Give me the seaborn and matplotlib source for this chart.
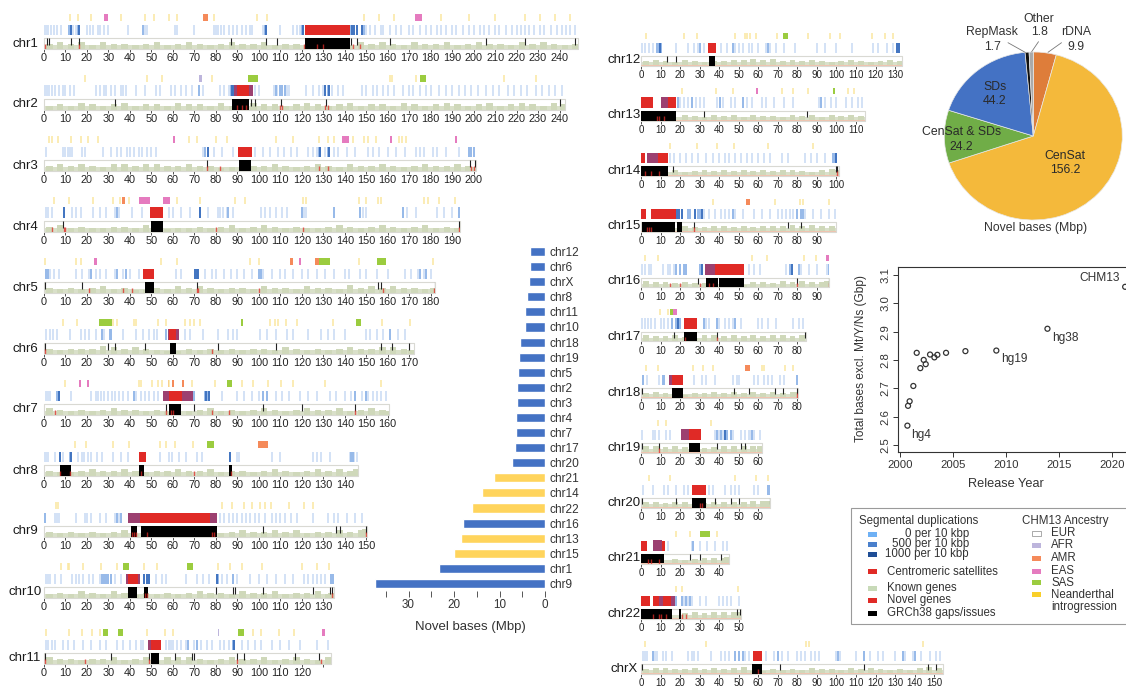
import matplotlib
matplotlib.use("Agg")
import matplotlib.pyplot as plt
import pandas as pd
import seaborn as sns
from matplotlib.patches import Rectangle

# chromosome sizes (Mbp)
CHROMS = ["chr1", "chr2", "chr3", "chr4", "chr5", "chr6", "chr7", "chr8", "chr9", "chr10", "chr11",
          "chr12", "chr13", "chr14", "chr15", "chr16", "chr17", "chr18", "chr19", "chr20", "chr21", "chr22", "chrX"]
LENGTHS = [248.4, 242.7, 201.1, 193.6, 182.0, 172.1, 160.6, 146.3, 150.6, 134.8, 133.5,
           133.3, 114.4, 101.2, 99.8, 96.3, 84.3, 80.5, 61.7, 66.2, 45.1, 51.3, 154.3]

# centromeric satellites, and the parts overlapping segmental duplications
CENSAT = {
    "chr1": [(121.5, 142.5)], "chr2": [(90, 95.5)], "chr3": [(90.4, 96.7)], "chr4": [(49.2, 55.6)],
    "chr5": [(46.3, 51.4)], "chr6": [(58.2, 61.3)], "chr7": [(58, 64.3)], "chr8": [(44, 47.5)],
    "chr9": [(44.5, 77.5)], "chr10": [(39, 43.6)], "chr11": [(49.7, 54.5)], "chr12": [(34.4, 38.6)],
    "chr13": [(0, 6), (14, 18)], "chr14": [(0, 2.2), (8.5, 14)], "chr15": [(0, 2.8), (5.2, 18)],
    "chr16": [(38, 52.5)], "chr17": [(22.2, 28.8)], "chr18": [(15.9, 21.5)], "chr19": [(24.6, 30.6)],
    "chr20": [(26.2, 33.2)], "chr21": [(0.2, 3.2), (10.5, 12.1)], "chr22": [(0.2, 4.8), (6.2, 9), (11, 15.5)],
    "chrX": [(57.4, 61.7)],
}
CENSAT_MIX = {
    "chr2": [(88.5, 90), (95.5, 97.5)], "chr6": [(57.5, 58.2), (61.3, 63)], "chr7": [(55.5, 58), (64.3, 69.5)],
    "chr9": [(39, 44.5), (77.5, 80.5)], "chr10": [(38, 39), (43.6, 44.5)], "chr11": [(48.2, 49.7)],
    "chr13": [(10, 14)], "chr14": [(3, 8.5)], "chr16": [(32.5, 38)], "chr18": [(14.4, 15.9)],
    "chr19": [(20.7, 24.6)], "chr21": [(6.2, 10.5)], "chr22": [(9, 11), (15.5, 17.5)],
}
# GRCh38 gaps and issues: long blocks and thin marks
GAPS = {
    "chr1": [(121.5, 142.5)], "chr2": [(87.5, 95.5)], "chr3": [(91, 96.3)], "chr4": [(49.7, 55.3)],
    "chr5": [(47, 51.2)], "chr6": [(58.7, 61.3)], "chr7": [(58.4, 63.8)], "chr8": [(7.5, 12.8), (44.3, 46.5), (86.3, 87.5)],
    "chr9": [(40.5, 43.5), (45, 80.5)], "chr10": [(39.3, 43.3), (46.7, 48.3)], "chr11": [(49.8, 53.7)],
    "chr12": [(35, 37.8)], "chr13": [(0, 18)], "chr14": [(0, 14)], "chr15": [(0.5, 17.5), (18.5, 21)],
    "chr16": [(33.5, 39.2), (39.8, 52.5)], "chr17": [(21.8, 28.5)], "chr18": [(15.9, 21.5)], "chr19": [(24.6, 30)],
    "chr20": [(26.2, 33)], "chr21": [(0, 11.7)], "chr22": [(0, 15.8), (19.5, 20.5)], "chrX": [(57, 62)],
}
GAP_MARKS = {
    "chr1": [1.5, 2.5, 12.5, 16.5, 87, 103.5, 108.5, 143, 145.5, 161, 206, 224, 247],
    "chr2": [33, 96.5, 98, 110.5, 131.5, 240], "chr3": [76, 198.5, 200.5], "chr4": [9, 193],
    "chr5": [0.5, 17.5, 71, 155.5, 157, 182], "chr6": [0.5, 30, 33, 47, 81, 108, 157, 162, 170],
    "chr7": [57, 70, 102, 120, 145], "chr8": [], "chr9": [102, 136, 138, 150],
    "chr10": [80, 88, 89, 102, 125, 133, 134], "chr11": [0.5, 31, 49, 61, 69, 70, 90, 93, 117, 128],
    "chr12": [13.5, 18], "chr13": [32, 85], "chr14": [16.5, 99.5, 100.5], "chr15": [27, 75, 82],
    "chr16": [29, 80, 96], "chr17": [17, 39, 84], "chr18": [0.5, 47.5, 55, 68.5, 72.5, 80],
    "chr19": [0.5, 9, 39, 51, 53], "chr20": [0.5, 18, 38, 46, 50, 66], "chr21": [25, 30, 41],
    "chr22": [49, 50.5], "chrX": [0.5, 71, 114, 147, 151],
}
NOVEL_MARKS = {
    "chr1": [0.5, 16.5, 121, 127, 130, 144, 147], "chr2": [90, 92, 94, 110, 111, 131, 132], "chr3": [76, 82, 128, 132, 199, 200],
    "chr4": [3.5, 9.5, 10, 80, 120.5, 193], "chr5": [21, 37, 41, 71, 71.5, 100, 158, 181.5], "chr6": [0.5, 78],
    "chr7": [5, 57, 59, 60, 78, 86, 145], "chr8": [7.5, 12, 45, 70, 87], "chr9": [41, 42, 43, 48, 78, 79, 150],
    "chr10": [47, 48, 134], "chr11": [0.5, 19, 49, 90, 129], "chr12": [], "chr13": [8, 9, 12], "chr14": [2, 5, 9, 100.5],
    "chr15": [3, 4, 5, 27], "chr16": [15, 20, 30, 35, 37, 80, 96], "chr17": [22.5, 39], "chr18": [80], "chr19": [9],
    "chr20": [30, 31], "chr21": [3.5, 5, 9], "chr22": [6, 9, 10, 13, 21, 23], "chrX": [60],
}

# segmental duplication tracks, three shades
SD_LIGHT = {
    "chr1": [0.5, 1.2, 2, 3.2, 4.5, 6, 8, 11.5, 13.5, 15, 20, 21.5, 23, 25, 26, 28, 30, 39, 47, 48, 61, 62, 70, 79, 80, 81, 82.5, 84, 86, 88, 90, 92, 94, 96, 97, 102, 110, 116, 118, 119, 150, 152, 154, 157, 158, 161, 164, 166, 170, 172, 175, 178, 180, 183, 185, 187, 190, 192, 195, 198, 200, 203, 205, 207, 210, 212, 215, 218, 220, 222, 224, 226, 228, 231, 233, 236, 239, 241, 243, 245, 247],
    "chr2": [0.5, 1.5, 2.5, 3.5, 5, 7, 9, 10, 12, 14, 24, 26, 28, 29, 31, 33, 36, 37, 38, 43, 47, 52, 54, 59, 61, 64, 66, 69, 72, 74, 82, 84, 86, 98, 100, 107, 108.5, 112, 113, 114, 122, 125, 128, 130, 134, 137, 139, 148, 150, 153, 155, 158, 160, 163, 167, 170, 172, 175, 178, 180, 184, 187, 190, 193, 196, 199, 202, 206, 209, 212, 216, 219, 222, 225, 229, 232, 235, 238, 241],
    "chr3": [0.8, 9, 10, 11, 12, 13, 17.5, 19, 27.6, 31, 34, 36, 38.5, 40, 42, 44, 45.5, 48, 50, 52, 74, 79, 83, 88, 98, 102, 105, 109, 111.5, 115, 118, 123, 125, 127, 131, 135, 137, 141, 145, 151, 153, 156, 160, 164, 168, 173, 175, 177, 181, 183, 187, 193],
    "chr4": [1, 2, 3.5, 13, 15, 17, 23, 26, 29, 33, 35, 41, 45.5, 58, 60, 64, 68, 76.5, 81, 82, 83.5, 85, 88, 101, 103, 105, 108, 111, 113, 121, 122, 147, 148.5, 150, 167, 169, 173, 183, 186, 190],
    "chr5": [3, 4.5, 7, 14.9, 17.5, 21, 24, 26, 29, 33, 37, 40, 44, 61.5, 64, 75, 78, 80, 84, 87, 90, 93, 97, 102, 106, 110, 112, 116, 120, 123, 127, 131, 135, 140, 142, 147, 150, 155, 160, 168, 171, 174, 177, 180],
    "chr6": [1, 3, 4, 6, 12, 17, 19, 21, 24, 28, 31, 37, 43, 46, 49, 51, 52.5, 65.6, 68, 74, 81, 85.5, 88, 90, 100.5, 104, 108, 113, 116, 123, 129, 132, 135, 140, 150, 152, 155, 158, 165, 168],
    "chr7": [0.8, 1.5, 2.3, 3, 12.4, 22, 24, 25, 26.5, 28, 30, 31.5, 33, 35, 37, 39, 43, 45, 47, 49, 51, 53, 70, 83, 90, 93, 97, 100, 108, 111, 114, 119, 123, 127, 133, 136, 140, 143, 148, 151, 153, 155, 157, 159],
    "chr8": [0.5, 1, 1.7, 5, 9, 16, 17.5, 18.5, 20.5, 22, 24.5, 27, 32, 36, 39, 54, 58, 59.5, 63, 66, 71, 73.5, 90, 91, 106, 110, 125, 127, 129, 133, 142.5, 143.5, 144.5, 145.5],
    "chr9": [0.5, 5, 6, 7, 15, 19, 20, 22, 26, 29, 33, 35, 82, 84, 86, 88, 90, 92, 94, 96, 98, 100, 103, 106, 108, 110, 112, 115, 118, 125, 132, 135, 137, 141, 145, 148],
    "chr10": [1, 2, 3, 5, 8, 13, 15, 16.5, 18, 21, 23, 26, 33, 36, 52, 55, 57, 66, 71, 74, 77, 83, 85, 90, 96, 100, 104, 108, 112, 116, 121, 123, 125, 127, 129, 131],
    "chr11": [1, 2, 3.5, 5, 9, 11, 14, 18, 22, 26, 29, 34, 37, 40, 43, 45, 46, 57, 58, 59, 60, 62, 64, 66, 70, 73, 76, 78, 82, 84, 86, 92, 95, 98, 101, 106, 110, 114, 119, 127, 132],
    "chr12": [0.5, 2, 4, 6, 18, 24, 27, 29, 32, 41, 44, 48, 50, 52, 55, 57, 60, 64, 66, 69, 73, 79, 90, 94, 100, 108, 118.7, 121, 125.8, 129],
    "chr13": [20, 22, 24, 28, 30, 32, 39, 42, 46, 48, 54, 57, 62, 64, 68, 73, 78, 91, 94, 97, 100, 105, 108, 111, 113],
    "chr14": [15, 17, 20, 23, 26, 29, 33, 37, 40, 43, 45, 48, 51, 54, 57, 60, 63, 66, 72, 75, 84, 87, 90, 94],
    "chr15": [32, 35, 38, 41, 43, 45, 48, 52, 58, 62, 66, 70, 72, 74, 76, 78, 84, 88, 92, 96, 99],
    "chr16": [0.5, 2, 4, 5, 11.5, 14, 15, 17, 55, 58, 61, 74, 77, 82, 86, 90, 95],
    "chr17": [0.5, 2, 3.5, 5, 7, 10, 12, 14, 33, 35, 40, 43, 45, 47, 51, 60, 62, 65, 69, 78, 81, 83],
    "chr18": [3, 9, 27, 31, 33, 38, 47, 49, 50, 58, 60, 63, 65, 67, 71, 73],
    "chr19": [0.5, 6, 7, 9, 13, 15, 38, 40, 42, 47, 51, 53, 55, 56, 58, 61],
    "chr20": [1, 6, 12, 14, 18, 22, 24, 35, 37, 43, 46, 48, 50, 58, 60],
    "chr21": [14, 26, 30, 34, 38, 42, 44],
    "chr22": [22, 24, 26, 30, 33, 40, 42, 44, 46, 50],
    "chrX": [1, 2, 3, 7, 8, 11, 13, 16, 24, 26, 27, 29, 36, 41, 43, 45, 50, 53, 55, 64, 68, 72, 75, 80, 82, 84, 87, 89, 91, 100, 102, 110, 117, 121, 124, 130, 135, 139, 143, 148, 151, 153],
}
SD_MID = {
    "chr1": [11.8, 16, 46, 103, 120, 142.8, 149], "chr2": [72, 87, 108, 110, 111, 112, 132], "chr3": [75, 128, 132, 198, 199, 200],
    "chr4": [34, 72.4, 85.5, 120, 134.8, 147, 167, 193], "chr5": [1, 2, 22, 34, 38, 100, 101, 175, 178], "chr6": [26.9, 30.5, 31, 57, 161],
    "chr7": [6, 7.2, 42, 70, 75, 76, 102, 104, 145, 150], "chr8": [12, 143, 144], "chr9": [0.5, 34, 36],
    "chr10": [27, 28, 29, 30, 31, 81, 88, 133.5, 134.5], "chr11": [67, 71, 88], "chr12": [8, 9, 10, 30, 47, 65],
    "chr13": [19, 26, 40.5, 52, 92], "chr14": [98, 99, 100], "chr15": [24, 25, 29, 30, 47, 80, 82, 83],
    "chr16": [18, 20, 22, 23, 30, 76, 81, 96], "chr17": [16, 18, 20, 32, 39, 48], "chr18": [1, 11, 12, 80],
    "chr19": [21, 39, 41, 44, 46, 57], "chr20": [66, 65], "chr21": [26.5], "chr22": [18, 21, 23, 25], "chrX": [6, 48, 50, 52, 70, 101, 114, 134, 140],
}
SD_DARK = {
    "chr1": [12.5, 16.5, 103.5, 120.5, 143.5, 144.5, 145.5, 148], "chr2": [87.5, 88, 131, 132.5], "chr3": [76.5, 128.5, 132.5], "chr4": [9.5, 72.8],
    "chr5": [70.5, 71, 71.7], "chr6": [], "chr7": [7, 75.5, 77], "chr8": [7.5, 12.8, 86.6], "chr9": [],
    "chr10": [46.5, 48, 49, 80.7], "chr11": [88.5], "chr12": [9.5, 131, 132], "chr13": [], "chr14": [99.5],
    "chr15": [18.5, 19.5, 21, 27.5, 31], "chr16": [31, 77], "chr17": [19], "chr18": [], "chr19": [43],
    "chr20": [], "chr21": [], "chr22": [], "chrX": [],
}

# ancestry track
NEANDERTHAL = {
    "chr1": [12, 16, 22, 36, 47, 51, 58, 62, 79, 99, 104, 149, 156, 163, 185, 198, 210, 224, 231, 238, 245],
    "chr2": [19, 48, 55, 78, 161, 162, 173, 214, 229],
    "chr3": [2.3, 3.5, 6.7, 12.6, 17, 20.5, 25.3, 67.4, 71.4, 80, 85, 108, 116, 128, 132, 135, 144, 149, 151, 154.5, 165.5, 166.5, 168.5],
    "chr4": [4.8, 11.8, 23, 32, 35.4, 39.7, 62, 72.7, 88.7, 93.6, 120.5, 122, 146.5, 150, 155.5, 157, 176.7, 179, 183.7, 191.5],
    "chr5": [0.5, 15, 17, 54.7, 62, 96, 100, 146.5, 181],
    "chr6": [8.7, 15.2, 32.3, 34.2, 42, 43, 53, 56.7, 65.6, 68, 69.6, 72.4, 105, 107.7, 109, 112.7, 117.7, 134.5, 157.3, 170.4],
    "chr7": [9.8, 44, 45, 50.2, 53, 55, 58, 69, 79.7, 92.2, 97.2, 104.2, 110.4, 115.8, 131, 156.9],
    "chr8": [14.6, 19.4, 32.3, 39.7, 54, 57, 61, 69.2],
    "chr9": [5.8, 6.5, 83, 87.7, 93, 97, 100.6, 103, 105.6, 114, 121, 125],
    "chr10": [8, 11, 11.8, 18, 26.6, 34, 46.6, 52.5, 81.2, 86.6, 92, 101.4, 120.3, 127, 132.5],
    "chr11": [1, 11.8, 17.9, 22.2, 26, 47.8, 56.2, 60, 97.5, 101, 109.6, 116.5],
    "chr12": [2.7, 21.9, 28.4, 48, 53, 54, 55.5, 59, 69.7, 85.6, 96.8, 101.9, 118, 125, 129],
    "chr13": [21, 38.6, 47, 72.3, 78, 85.6, 106, 109],
    "chr14": [14.7, 28.4, 39, 47.7, 65, 87.9],
    "chr15": [36.6, 68.5, 81.4, 83, 96],
    "chr16": [1.9, 8.7, 56.6, 64.3, 83.4, 89.6],
    "chr17": [9.6, 14],
    "chr18": [2.5, 8.5, 26.5, 31.5, 37, 62, 62.8, 73.7, 78],
    "chr19": [8.7, 12.6, 36],
    "chr20": [3.9, 14.7, 48, 59, 65],
    "chr21": [18, 25, 39],
    "chr22": [17.8, 21, 49.7],
    "chrX": [2.2, 33, 84.5, 86, 144],
}
AFR = {"chr2": [(72, 73.5)], "chr11": [(81, 81.5)]}
AMR = {"chr1": [(74, 76.5)], "chr4": [(36.5, 37.7)], "chr5": [(114.6, 115.8), (126.2, 128)], "chr7": [(57.6, 58.4), (59.6, 60.4), (64.3, 65)],
       "chr8": [(99.4, 104.5)], "chr15": [(53.7, 56)], "chr18": [(53.2, 55.7)]}
EAS = {"chr1": [(28, 30), (172.7, 176)], "chr3": [(60, 61), (138.7, 141.8), (161, 162), (191.5, 192.3)],
       "chr4": [(44, 49.4), (55.6, 58.7)], "chr5": [(23.4, 24.7), (118.8, 119.8)], "chr7": [(16.3, 17), (20, 21)],
       "chr11": [(129.3, 130.9)], "chr13": [(59, 60)], "chr16": [(94.7, 96.4)], "chr17": [(16.4, 18.5)]}
SAS = {"chr2": [(95, 99.5), (175, 178)], "chr5": [(128, 133.2), (155, 159)], "chr6": [(25.6, 31.8), (91.6, 92.5), (145.3, 147.7)],
       "chr7": [(85.3, 87.3)], "chr8": [(76, 79.3)], "chr10": [(37, 39.8), (66.8, 69.3)],
       "chr11": [(27.6, 29.7), (34.3, 36.8), (90.4, 93.2)], "chr12": [(72.8, 75)], "chr13": [(98, 99.4)], "chr17": [(15, 16.4)], "chr21": [(30, 35.2)]}

# known gene track, height per 5 Mbp (tenths of the box)
GENES = {
    "chr1": [5, 6, 5, 6, 4, 6, 5, 5, 4, 5, 6, 4, 5, 6, 5, 4, 5, 6, 5, 5, 6, 4, 5, 5, 3, 3, 3, 3, 4, 6, 5, 6, 5, 4, 6, 5, 5, 6, 4, 5, 6, 5, 5, 4, 6, 5, 6, 5, 4, 5],
    "chr2": [4, 5, 4, 6, 5, 4, 5, 6, 4, 5, 5, 4, 6, 5, 5, 4, 6, 4, 5, 6, 5, 5, 4, 5, 6, 5, 4, 5, 6, 4, 5, 5, 4, 6, 5, 4, 5, 6, 5, 4, 5, 6, 4, 5, 6, 5, 4, 6, 5],
    "chr3": [5, 6, 5, 6, 5, 4, 6, 6, 5, 6, 6, 5, 5, 6, 5, 5, 3, 4, 2, 5, 5, 6, 5, 4, 5, 6, 5, 4, 6, 5, 5, 6, 5, 4, 5, 6, 5, 5, 6, 5, 4],
    "chr4": [5, 6, 4, 5, 4, 4, 5, 5, 4, 6, 4, 3, 4, 4, 5, 4, 5, 6, 4, 5, 6, 5, 4, 5, 4, 4, 5, 6, 5, 4, 5, 6, 5, 4, 5, 6, 4, 5, 4],
    "chr5": [5, 4, 5, 4, 5, 6, 4, 5, 3, 3, 5, 4, 6, 5, 6, 5, 4, 5, 5, 4, 6, 5, 5, 4, 6, 5, 5, 4, 7, 5, 6, 5, 6, 5, 5, 4, 5],
    "chr6": [5, 4, 5, 5, 5, 7, 6, 5, 6, 5, 4, 3, 3, 5, 4, 5, 4, 5, 4, 5, 5, 4, 6, 5, 4, 5, 4, 5, 6, 5, 5, 6, 6, 5, 4],
    "chr7": [6, 5, 4, 5, 4, 5, 6, 5, 5, 4, 5, 3, 3, 4, 5, 6, 4, 5, 4, 5, 6, 5, 4, 5, 6, 5, 5, 6, 4, 5, 6, 5, 4],
    "chr8": [5, 4, 4, 5, 6, 5, 5, 6, 5, 4, 5, 5, 6, 5, 5, 6, 4, 5, 5, 4, 5, 6, 5, 4, 5, 6, 5, 6, 5, 6],
    "chr9": [5, 4, 5, 4, 5, 4, 5, 6, 3, 3, 3, 3, 3, 3, 3, 3, 4, 5, 6, 5, 5, 6, 5, 6, 4, 5, 5, 6, 5, 6, 7],
    "chr10": [4, 5, 4, 6, 5, 4, 6, 5, 3, 5, 4, 5, 4, 5, 6, 5, 5, 4, 6, 5, 5, 6, 4, 5, 5, 6, 4, 5],
    "chr11": [6, 5, 5, 4, 5, 5, 6, 4, 5, 6, 3, 6, 6, 6, 5, 4, 5, 6, 5, 5, 6, 4, 5, 6, 5, 4, 6, 5],
    "chr12": [5, 6, 5, 4, 6, 5, 4, 5, 5, 6, 6, 7, 6, 7, 5, 6, 5, 6, 5, 4, 5, 6, 5, 4, 5, 6, 5],
    "chr13": [1, 1, 1, 1, 6, 5, 4, 6, 5, 6, 4, 6, 5, 5, 4, 6, 5, 6, 4, 6, 5, 6, 5],
    "chr14": [1, 1, 1, 6, 4, 5, 6, 5, 6, 5, 6, 5, 6, 5, 6, 6, 5, 4, 6, 7, 6],
    "chr15": [1, 1, 1, 1, 6, 5, 5, 6, 6, 5, 6, 5, 6, 6, 6, 7, 6, 7, 6, 6],
    "chr16": [7, 6, 6, 5, 6, 5, 5, 4, 3, 3, 3, 6, 6, 5, 7, 6, 7, 6, 6, 7],
    "chr17": [7, 6, 6, 7, 5, 4, 7, 7, 6, 7, 6, 7, 6, 7, 7, 6, 7],
    "chr18": [5, 6, 5, 6, 3, 5, 5, 6, 5, 6, 5, 6, 5, 6, 5, 6, 6],
    "chr19": [7, 7, 6, 7, 6, 4, 5, 6, 7, 7, 7, 7, 7],
    "chr20": [6, 6, 5, 6, 6, 7, 5, 6, 6, 6, 6, 7, 7, 7],
    "chr21": [1, 1, 1, 5, 4, 5, 6, 6, 6, 7],
    "chr22": [1, 1, 1, 1, 6, 7, 6, 7, 7, 7, 7],
    "chrX": [5, 6, 6, 5, 5, 6, 5, 6, 5, 6, 7, 3, 3, 5, 4, 5, 4, 6, 5, 5, 4, 6, 5, 6, 5, 4, 5, 4, 6, 7, 6],
}

# novel bases per chromosome, top to bottom
BAR_CHROMS = ["chr12", "chr6", "chrX", "chr8", "chr11", "chr10", "chr18", "chr19", "chr5", "chr2", "chr3", "chr4",
              "chr7", "chr17", "chr20", "chr21", "chr14", "chr22", "chr16", "chr13", "chr15", "chr1", "chr9"]
BAR_VALUES = [3.2, 3.2, 3.6, 3.9, 4.3, 4.5, 5.6, 5.8, 5.9, 6.2, 6.2, 6.3, 6.3, 6.6, 7.2, 11.2, 13.8, 16.0, 18.1, 18.4, 20.0, 23.4, 37.3]
BAR_KINDS = ["b"] * 15 + ["y", "y", "y", "b", "y", "y", "b", "b"]

# pie, clockwise from the top
PIE_NAMES = ["rDNA", "CenSat", "CenSat & SDs", "SDs", "RepMask", "Other"]
PIE_VALUES = [9.9, 156.2, 24.2, 44.2, 1.7, 1.8]
PIE_COLORS = ["#DE7D3A", "#F4B93B", "#70AD47", "#4472C4", "#111111", "#A9A9A9"]

# assembly releases
YEARS = [2000.7, 2000.76, 2000.91, 2001.26, 2001.58, 2001.92, 2002.24, 2002.43, 2002.84, 2003.25, 2003.53, 2004.35, 2006.18, 2009.1, 2013.93, 2021.27]
BASES = [2.568, 2.638, 2.654, 2.708, 2.825, 2.771, 2.80, 2.785, 2.819, 2.809, 2.818, 2.825, 2.831, 2.833, 2.91, 3.058]

W, H = 1126, 686
BOX_TOP = dict(zip(CHROMS, [38, 99, 160, 221, 282, 343, 404, 465, 526, 587, 653,
                            56, 111, 166, 222, 278, 332, 388, 443, 498, 554, 609, 664]))
LABEL_Y = dict(zip(CHROMS, [44, 104, 166, 227, 288, 349, 409, 471, 531, 592, 658,
                            60, 115, 171, 226, 281, 337, 393, 448, 503, 558, 614, 669]))
RED = "#E02A26"

sns.set_theme(style="ticks")
plt.rcParams["font.family"] = ["Liberation Sans", "DejaVu Sans"]

fig = plt.figure(figsize=(W / 100, H / 100), dpi=100)


def px_axes(x0, y0, x1, y1):
    return fig.add_axes([x0 / W, 1 - y1 / H, (x1 - x0) / W, (y1 - y0) / H])


def spans(ax, items, y, h, color, **kw):
    ax.broken_barh([(a, b - a) for a, b in items], (y, h), color=color, linewidth=0, **kw)


def draw_chrom(name, length):
    left = CHROMS.index(name) < 11
    x0 = 44 if left else 641
    scale = 2.148 if left else 1.955
    box = 11 if left else 9.5
    top = 24 if left else 23
    ax = px_axes(x0, BOX_TOP[name] - top, x0 + length * scale, BOX_TOP[name] + box)
    ax.set_xlim(0, length)
    ax.set_ylim(0, box + top)
    ax.patch.set_alpha(0)

    # known genes and their box
    g = GENES[name]
    ax.axhspan(0, box * 0.32, color="#D9E0C9", linewidth=0)
    ax.bar([min(i * 5 + 2.5, length - 1) for i in range(len(g))], [v * box / 10 for v in g], width=3,
           color="#CFD8BA", linewidth=0)
    ax.plot([0, length, length, 0, 0], [0, 0, box, box, 0], color="#D9D9D3", lw=0.8, clip_on=False)
    ax.axhline(0.25, color="#F0C4B0", lw=0.7, zorder=2)
    spans(ax, GAPS[name], 0, box, "black", zorder=3)
    ax.vlines(GAP_MARKS[name], box * 0.35, box, color="#222222", lw=0.8, zorder=3)
    ax.vlines(NOVEL_MARKS[name], 0, box * 0.45, color=RED, lw=1.0, zorder=4, alpha=0.75)

    # segmental duplications and satellites
    y0, y1 = box + 3, box + 13.5
    ax.vlines(SD_LIGHT[name], y0, y1, color="#D3E2F6", lw=1.4)
    ax.vlines(SD_MID[name], y0, y1, color="#96B9E9", lw=1.4)
    ax.vlines(SD_DARK[name], y0, y1, color="#3F73C0", lw=1.4)
    spans(ax, CENSAT_MIX.get(name, []), y0, y1 - y0, "#9C4070", zorder=3)
    spans(ax, CENSAT[name], y0, y1 - y0, RED, zorder=3)

    # ancestry
    y2, h2 = box + 17, 7 if left else 6
    ax.vlines(NEANDERTHAL[name], y2, y2 + h2, color="#FBE7A0", lw=1.1)
    spans(ax, AFR.get(name, []), y2, h2, "#BDB5DC")
    spans(ax, AMR.get(name, []), y2, h2, "#F58A5A")
    spans(ax, EAS.get(name, []), y2, h2, "#E57BBF")
    spans(ax, SAS.get(name, []), y2, h2, "#9BCC3F")

    ticks = list(range(0, int(length) + 1, 10))
    ax.set_xticks(ticks)
    ax.set_xticklabels(["" if name == "chr11" and t == 130 else str(t) for t in ticks],
                       fontsize=7.8 if left else 7.0, color="#222222")
    ax.tick_params(axis="x", length=2.2, width=0.6, pad=1.0, color="#333333")
    ax.set_yticks([])
    sns.despine(ax=ax, left=True, bottom=True)


for name, length in zip(CHROMS, LENGTHS):
    draw_chrom(name, length)

# bar chart
bar_df = pd.DataFrame({"chrom": BAR_CHROMS, "mbp": BAR_VALUES, "kind": BAR_KINDS})
ax_bar = px_axes(545 - 38 * 4.55, 244, 545, 591)
sns.barplot(data=bar_df, x="mbp", y="chrom", hue="kind", palette={"b": "#4472C4", "y": "#FFD45C"},
            dodge=False, width=0.6, saturation=1, legend=False, ax=ax_bar)
ax_bar.set_xlim(38, 0)
ax_bar.set_ylim(22.5, -0.5)
ax_bar.set_xticks(range(0, 40, 5))
ax_bar.set_xticklabels(["0", "", "10", "", "20", "", "30", ""], fontsize=8.4, color="#333333")
ax_bar.yaxis.tick_right()
ax_bar.tick_params(axis="y", length=0, pad=3, labelsize=8.6, labelcolor="#333333")
ax_bar.tick_params(axis="x", length=4.3, width=0.7, pad=1.5, color="#555555")
ax_bar.set_xlabel("")
ax_bar.set_ylabel("")
ax_bar.patch.set_alpha(0)
for s in ax_bar.spines.values():
    s.set_visible(False)

# pie
ax_pie = px_axes(1033.3 - 89, 136 - 84, 1033.3 + 89, 136 + 84)
ax_pie.pie(PIE_VALUES, colors=PIE_COLORS, startangle=90, counterclock=False, radius=1,
           wedgeprops={"edgecolor": "#E8E8E8", "linewidth": 0.5})
ax_pie.set_aspect("auto")
ax_pie.set_xlim(-1, 1)
ax_pie.set_ylim(-1, 1)

# scatter, running off the right edge like the page
ax_sc = px_axes(898.3, 266.7, W, 452)
sns.scatterplot(x=YEARS, y=BASES, marker="o", s=13, facecolor="none", edgecolor="#333333", linewidth=0.9,
                clip_on=True, ax=ax_sc)
ax_sc.collections[0].set_facecolor("none")
ax_sc.set_xlim(1999.84, 2021.35)
ax_sc.set_ylim(2.475, 3.129)
ax_sc.set_xticks([2000, 2005, 2010, 2015, 2020])
ax_sc.set_yticks([2.5, 2.6, 2.7, 2.8, 2.9, 3.0, 3.1])
ax_sc.set_yticklabels(["2.5", "2.6", "2.7", "2.8", "2.9", "3.0", "3.1"], rotation=90, va="center")
ax_sc.tick_params(labelsize=8.2, length=3.6, width=0.7, pad=2, color="#333333", labelcolor="#333333")
ax_sc.spines["right"].set_visible(False)
for s in ["left", "top", "bottom"]:
    ax_sc.spines[s].set_linewidth(0.8)
    ax_sc.spines[s].set_color("#333333")

# everything placed by pixel goes on one overlay
ov = fig.add_axes([0, 0, 1, 1])
ov.set_xlim(0, W)
ov.set_ylim(H, 0)
ov.axis("off")
ov.patch.set_alpha(0)


def txt(x, y, s, size=8.8, ha="center", rotation=0, color="#333333"):
    ov.text(x, y, s, fontsize=size, ha=ha, va="center", rotation=rotation, color=color)


for name in CHROMS:
    txt(25 if CHROMS.index(name) < 11 else 624, LABEL_Y[name], name, size=9.5, color="#1A1A1A")

txt(470, 627, "Novel bases (Mbp)", size=9.5)

# pie labels
for x, y, s in [(1039, 19, "Other"), (1040, 32, "1.8"), (992, 32, "RepMask"), (993, 46.7, "1.7"),
                (1075.7, 32, "rDNA"), (1075.7, 46.7, "9.9"), (1036, 228, "Novel bases (Mbp)")]:
    txt(x, y, s)
for x, y, s in [(995, 87, "SDs"), (995, 100.7, "44.2"), (961.7, 132, "CenSat & SDs"), (961.7, 146.7, "24.2"),
                (1065, 156, "CenSat"), (1065, 170, "156.2")]:
    txt(x, y, s, color="#2A2A2A")
ov.plot([1008, 1025.5], [42.7, 52.5], color="#777777", lw=0.6)
ov.plot([1031.7, 1038.5], [51.7, 41.7], color="#777777", lw=0.6)
ov.plot([1048, 1061.5], [52.3, 42.7], color="#777777", lw=0.6)

# scatter labels
txt(921, 435, "hg4", size=8.6)
txt(1014, 359, "hg19", size=8.6)
txt(1065.7, 337.7, "hg38", size=8.6)
txt(1100, 278, "CHM13", size=8.6)
txt(1006, 483.7, "Release Year", size=9.2)
txt(860.7, 358, "Total bases excl. Mt/Y/Ns (Gbp)", size=8.6, rotation=90)

# legend box
ov.add_patch(Rectangle((851, 508.3), W - 851 + 3, 115.7, fc="white", ec="#9A9A9A", lw=0.8))
txt(859, 520.7, "Segmental duplications", size=8.3, ha="left")
for y, s, c in [(534, "0 per 10 kbp", "#6FB1F5"), (544, "500 per 10 kbp", "#4A80CC"), (554.3, "1000 per 10 kbp", "#1F4E96")]:
    ov.add_patch(Rectangle((868, y - 2.5), 9, 5, fc=c, lw=0))
    txt(969, y, s, size=8.3, ha="right")
for y, s, c in [(571.7, "Centromeric satellites", RED), (588, "Known genes", "#C8DAB8"),
                (600, "Novel genes", RED), (613, "GRCh38 gaps/issues", "black")]:
    ov.add_patch(Rectangle((868, y - 2.5), 9, 5, fc=c, lw=0))
    txt(887, y, s, size=8.3, ha="left")
txt(1021.7, 520.7, "CHM13 Ancestry", size=8.3, ha="left")
for y, s, c in [(533.3, "EUR", "white"), (545, "AFR", "#BDB5DC"), (558, "AMR", "#F58A5A"), (571, "EAS", "#E57BBF"),
                (582.7, "SAS", "#9BCC3F"), (594.7, "Neanderthal", "#F9CF2A")]:
    ov.add_patch(Rectangle((1032, y - 2.5), 9, 5, fc=c, ec="#888888" if s == "EUR" else "none", lw=0.5))
    txt(1051, y, s, size=8.3, ha="left")
txt(1051, 607, "introgression", size=8.3, ha="left")

fig.savefig("out.png", dpi=100)
